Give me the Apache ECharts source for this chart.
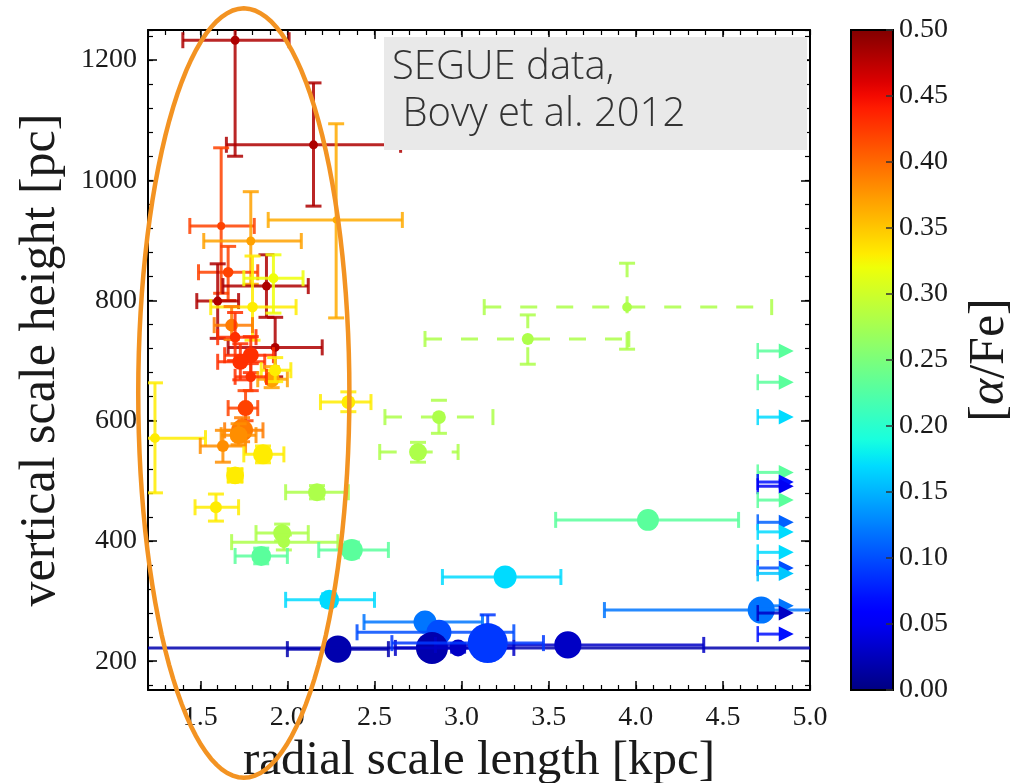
<!DOCTYPE html>
<html>
<head>
<meta charset="utf-8">
<script src="https://cdn.jsdelivr.net/npm/echarts@6/dist/echarts.min.js"></script>
<style>
  html, body { margin: 0; padding: 0; background: #fff; }
  #chart { width: 1013px; height: 783px; }
</style>
</head>
<body>
<div id="chart"></div>
<script>
// mono-abundance populations: radial scale length [kpc], vertical scale height [pc]
const rScale = [1.70, 2.15, 2.28, 1.62, 1.79, 1.66, 1.88, 1.60, 1.80, 1.92, 1.93, 1.68, 1.70, 1.79, 1.73, 1.91, 1.93, 1.79, 1.76, 1.74, 1.72, 2.35, 1.24, 1.63, 1.86, 1.70, 1.59, 2.17, 1.97, 1.98, 1.85, 2.37, 2.24, 4.07, 3.25, 4.72, 2.79, 2.87, 2.29, 2.83, 2.98, 3.61, 3.15];
const rLow   = [1.40, 1.65, 1.89, 1.44, 1.52, 1.49, 1.63, 1.48, 1.56, 1.75, 1.66, 1.58, 1.60, 1.64, 1.60, 1.83, 1.85, 1.70, 1.66, 1.64, 1.62, 2.19, 1.00, 1.50, 1.75, 1.66, 1.47, 1.99, 1.82, 1.68, 1.70, 2.18, 1.99, 3.54, 2.89, 3.82, 2.44, 2.40, 2.00, 0.50, 2.62, 2.85, 2.60];
const rHigh  = [2.01, 2.65, 2.66, 1.81, 2.08, 1.83, 2.12, 1.72, 2.05, 2.09, 2.20, 1.80, 1.82, 1.92, 1.87, 2.00, 2.02, 1.88, 1.83, 1.86, 1.82, 2.48, 1.53, 1.76, 1.98, 1.74, 1.72, 2.35, 2.12, 2.29, 2.00, 2.58, 2.50, 4.59, 3.57, 6.00, 3.12, 3.30, 2.58, 9.00, 3.30, 4.39, 3.47];
const hScale = [1233, 1059, 934, 924, 899, 847, 824, 799, 789, 837, 722, 759, 739, 709, 698, 669, 684, 673, 621, 584, 576, 631, 571, 558, 544, 509, 456, 481, 413, 398, 375, 385, 302, 435, 340, 285, 265, 248, 220, 222, 222, 227, 230];
const hLow   = [1040, 957, 771, 812, 827, 800, 772, 737, 734, 779, 673, 735, 700, 680, 668, 655, 665, 650, 600, 565, 560, 615, 480, 531, 530, 498, 433, 470, 400, 385, 362, 372, 292, 425, 330, 275, 255, 238, 212, 214, 215, 220, 202];
const hHigh  = [1300, 1162, 1094, 1054, 981, 890, 876, 861, 874, 876, 772, 790, 780, 740, 728, 690, 705, 695, 650, 605, 595, 648, 663, 584, 558, 520, 478, 492, 428, 410, 388, 398, 312, 445, 350, 295, 275, 258, 228, 230, 229, 234, 277];
const alphaFe = [0.48, 0.48, 0.365, 0.42, 0.37, 0.42, 0.48, 0.48, 0.33, 0.32, 0.48, 0.39, 0.43, 0.43, 0.43, 0.37, 0.33, 0.43, 0.42, 0.39, 0.38, 0.33, 0.33, 0.38, 0.33, 0.33, 0.33, 0.28, 0.28, 0.28, 0.23, 0.23, 0.17, 0.23, 0.17, 0.12, 0.12, 0.10, 0.02, 0.02, 0.03, 0.03, 0.09];
const sigma  = [0.05, 0.05, 0.03, 0.04, 0.05, 0.07, 0.05, 0.05, 0.07, 0.06, 0.05, 0.10, 0.07, 0.16, 0.16, 0.16, 0.09, 0.07, 0.16, 0.30, 0.20, 0.12, 0.06, 0.09, 0.25, 0.20, 0.09, 0.20, 0.20, 0.09, 0.25, 0.30, 0.25, 0.30, 0.33, 0.46, 0.33, 0.39, 0.46, 0.64, 0.18, 0.46, 1.00];

// poorly constrained fits (dashed error bars)
const rScaleU = [3.95, 3.38, 2.87, 2.75];
const rLowU   = [3.13, 2.79, 2.56, 2.53];
const rHighU  = [4.78, 3.96, 3.18, 2.98];
const hScaleU = [789, 736, 606, 548];
const hLowU   = [719, 694, 579, 531];
const hHighU  = [862, 776, 634, 564];
const alphaFeU = [0.28, 0.28, 0.28, 0.28];
const sigmaU  = [0.06, 0.09, 0.12, 0.20];

// lower limits on the radial scale length
const rLimit = [4.70, 4.70, 4.70, 4.70, 4.70, 4.70, 4.70, 4.70, 4.70, 4.70, 4.70, 4.70, 4.70, 4.70, 4.70];
const hLimit = [716, 664, 606, 514, 498, 491, 468, 431, 415, 381, 355, 346, 292, 280, 245];
const alphaFeLimit = [0.23, 0.23, 0.17, 0.23, 0.07, 0.05, 0.23, 0.11, 0.17, 0.17, 0.10, 0.16, 0.12, 0.03, 0.07];

// highlighted region (ellipse): centre and half-axes in data units
const ringCentre = [1.75, 646];
const ringHalf = [0.606, 640];

const serif = 'Liberation Serif';

// matplotlib "jet" colormap
function jet(t) {
  function seg(pts) {
    for (let i = 1; i < pts.length; i++) {
      if (t <= pts[i][0]) {
        const a = pts[i - 1], b = pts[i];
        return a[1] + (b[1] - a[1]) * (t - a[0]) / (b[0] - a[0]);
      }
    }
    return pts[pts.length - 1][1];
  }
  const r = seg([[0, 0], [0.35, 0], [0.66, 1], [0.89, 1], [1, 0.5]]);
  const g = seg([[0, 0], [0.125, 0], [0.375, 1], [0.64, 1], [0.91, 0], [1, 0]]);
  const b = seg([[0, 0.5], [0.11, 1], [0.34, 1], [0.65, 0], [1, 0]]);
  return 'rgb(' + Math.round(r * 255) + ',' + Math.round(g * 255) + ',' + Math.round(b * 255) + ')';
}
const jetColors = [];
for (let i = 0; i <= 50; i++) jetColors.push(jet(i / 50));

const solidData = rScale.map((r, i) => [r, hScale[i], alphaFe[i], rLow[i], rHigh[i], hLow[i], hHigh[i], sigma[i]]);
const dashedData = rScaleU.map((r, i) => [r, hScaleU[i], alphaFeU[i], rLowU[i], rHighU[i], hLowU[i], hHighU[i], sigmaU[i]]);
const limitData = rLimit.map((r, i) => [r, hLimit[i], alphaFeLimit[i]]);

function errorPoint(dashed) {
  return function (params, api) {
    const r = api.value(0), h = api.value(1);
    const c = api.coord([r, h]);
    const lo = api.coord([api.value(3), h]);
    const hi = api.coord([api.value(4), h]);
    const bot = api.coord([r, api.value(5)]);
    const top = api.coord([r, api.value(6)]);
    const color = api.visual('color');
    const d = 40 * Math.sqrt(api.value(7));
    const cap = 8;
    const bar = { stroke: color, lineWidth: 3, opacity: 0.85, lineDash: dashed ? [17, 19] : null };
    const capStyle = { stroke: color, lineWidth: 3, opacity: 0.85 };
    return {
      type: 'group',
      children: [
        { type: 'line', shape: { x1: lo[0], y1: lo[1], x2: hi[0], y2: hi[1] }, style: bar },
        { type: 'line', shape: { x1: bot[0], y1: bot[1], x2: top[0], y2: top[1] }, style: bar },
        { type: 'line', shape: { x1: lo[0], y1: lo[1] - cap, x2: lo[0], y2: lo[1] + cap }, style: capStyle },
        { type: 'line', shape: { x1: hi[0], y1: hi[1] - cap, x2: hi[0], y2: hi[1] + cap }, style: capStyle },
        { type: 'line', shape: { x1: top[0] - cap, y1: top[1], x2: top[0] + cap, y2: top[1] }, style: capStyle },
        { type: 'line', shape: { x1: bot[0] - cap, y1: bot[1], x2: bot[0] + cap, y2: bot[1] }, style: capStyle },
        { type: 'circle', shape: { cx: c[0], cy: c[1], r: d / 2 }, style: { fill: color } }
      ]
    };
  };
}

function limitArrow(params, api) {
  const p = api.coord([api.value(0), api.value(1)]);
  const color = api.visual('color');
  return {
    type: 'group',
    children: [
      { type: 'line', shape: { x1: p[0], y1: p[1] - 8, x2: p[0], y2: p[1] + 8 }, style: { stroke: color, lineWidth: 2.5, opacity: 0.85 } },
      { type: 'line', shape: { x1: p[0], y1: p[1], x2: p[0] + 22, y2: p[1] }, style: { stroke: color, lineWidth: 3, opacity: 0.85 } },
      { type: 'polygon', shape: { points: [[p[0] + 21, p[1] - 7.5], [p[0] + 36, p[1]], [p[0] + 21, p[1] + 7.5]] }, style: { fill: color } }
    ]
  };
}

function ring(params, api) {
  const pts = [];
  for (let k = 0; k <= 120; k++) {
    const a = k / 120 * Math.PI * 2;
    pts.push(api.coord([api.value(0) + api.value(2) * Math.cos(a), api.value(1) + api.value(3) * Math.sin(a)]));
  }
  return { type: 'polyline', shape: { points: pts }, style: { stroke: '#f39322', lineWidth: 4.5, fill: null } };
}

function colorBar(params, api) {
  const p0 = api.coord([0, 0]);
  const p1 = api.coord([1, 0.5]);
  return {
    type: 'rect',
    shape: { x: p0[0], y: p1[1], width: p1[0] - p0[0], height: p0[1] - p1[1] },
    style: {
      fill: {
        type: 'linear', x: 0, y: 1, x2: 0, y2: 0,
        colorStops: jetColors.map((c, i) => ({ offset: i / 50, color: c }))
      },
      stroke: '#000', lineWidth: 2
    }
  };
}

const frameLine = { onZero: false, lineStyle: { color: '#000', width: 2 } };
const majorTick = { inside: true, length: 9, lineStyle: { color: '#000', width: 1.5 } };
const minorTick = { inside: true, length: 5, lineStyle: { color: '#000', width: 1.2 } };
const tickText = { fontFamily: serif, fontSize: 28, color: '#1a1a1a' };

const chart = echarts.init(document.getElementById('chart'), null, { renderer: 'canvas' });
chart.setOption({
  backgroundColor: '#fff',
  animation: false,
  grid: [
    { left: 148, top: 30, width: 662, height: 660, outerBoundsMode: 'none', containLabel: false },
    { left: 851, top: 30, width: 42, height: 660, outerBoundsMode: 'none', containLabel: false },
    { left: 148, top: 30, width: 662, height: 655.2, outerBoundsMode: 'none', containLabel: false }
  ],
  xAxis: [
    {
      gridIndex: 0, type: 'value', min: 1.2, max: 5.0, splitNumber: 7, position: 'bottom',
      axisLine: frameLine, axisTick: majorTick, splitLine: { show: false },
      axisLabel: Object.assign({ margin: 14, showMinLabel: false, formatter: v => v.toFixed(1) }, tickText),
      name: 'radial scale length [kpc]', nameLocation: 'middle', nameGap: 38,
      nameTextStyle: { fontFamily: serif, fontSize: 49, color: '#1a1a1a' }
    },
    {
      gridIndex: 0, type: 'value', min: 1.2, max: 5.0, splitNumber: 7, position: 'top',
      axisLine: frameLine, axisTick: majorTick, axisLabel: { show: false }, splitLine: { show: false }
    },
    {
      gridIndex: 0, type: 'value', min: 1.2, max: 5.0, interval: 0.1, position: 'bottom',
      axisLine: { show: false, onZero: false }, axisTick: minorTick, axisLabel: { show: false }, splitLine: { show: false }
    },
    {
      gridIndex: 0, type: 'value', min: 1.2, max: 5.0, interval: 0.1, position: 'top',
      axisLine: { show: false, onZero: false }, axisTick: minorTick, axisLabel: { show: false }, splitLine: { show: false }
    },
    { gridIndex: 1, type: 'value', min: 0, max: 1, show: false },
    { gridIndex: 2, type: 'value', min: 1.2, max: 5.0, show: false }
  ],
  yAxis: [
    {
      gridIndex: 0, type: 'value', min: 152, max: 1250, splitNumber: 5, position: 'left',
      axisLine: frameLine, axisTick: majorTick, splitLine: { show: false },
      axisLabel: Object.assign({ margin: 11, showMinLabel: false, showMaxLabel: false, formatter: v => String(v) }, tickText),
      name: 'vertical scale height [pc]', nameLocation: 'middle', nameGap: 82,
      nameTextStyle: { fontFamily: serif, fontSize: 50, color: '#1a1a1a' }
    },
    {
      gridIndex: 0, type: 'value', min: 152, max: 1250, splitNumber: 5, position: 'right',
      axisLine: frameLine, axisTick: majorTick, axisLabel: { show: false }, splitLine: { show: false }
    },
    {
      gridIndex: 2, type: 'value', min: 160, max: 1250, interval: 40, position: 'left',
      axisLine: { show: false, onZero: false }, axisTick: minorTick, axisLabel: { show: false }, splitLine: { show: false }
    },
    {
      gridIndex: 2, type: 'value', min: 160, max: 1250, interval: 40, position: 'right',
      axisLine: { show: false, onZero: false }, axisTick: minorTick, axisLabel: { show: false }, splitLine: { show: false }
    },
    {
      gridIndex: 1, type: 'value', min: 0, max: 0.5, interval: 0.05, position: 'right', z: 10,
      axisLine: { show: false, onZero: false },
      axisTick: { inside: true, length: 7, lineStyle: { color: '#333', width: 1.5 } },
      splitLine: { show: false },
      axisLabel: Object.assign({ margin: 6, formatter: v => v.toFixed(2) }, tickText),
      name: '[{i|α}/Fe]', nameLocation: 'middle', nameGap: 72,
      nameTextStyle: {
        fontFamily: serif, fontSize: 50, color: '#1a1a1a',
        rich: { i: { fontFamily: serif, fontSize: 50, fontStyle: 'italic', color: '#1a1a1a' } }
      }
    }
  ],
  visualMap: {
    type: 'continuous', show: false, min: 0, max: 0.5, dimension: 2,
    seriesIndex: [0, 1, 2], inRange: { color: jetColors }
  },
  series: [
    { type: 'custom', name: 'fits', xAxisIndex: 0, yAxisIndex: 0, clip: true, data: solidData, renderItem: errorPoint(false) },
    { type: 'custom', name: 'uncertain fits', xAxisIndex: 0, yAxisIndex: 0, clip: true, data: dashedData, renderItem: errorPoint(true) },
    { type: 'custom', name: 'lower limits', xAxisIndex: 0, yAxisIndex: 0, clip: true, data: limitData, renderItem: limitArrow },
    { type: 'custom', name: 'region', xAxisIndex: 0, yAxisIndex: 0, z: 20, silent: true,
      data: [[ringCentre[0], ringCentre[1], ringHalf[0], ringHalf[1]]], renderItem: ring },
    { type: 'custom', name: 'colorbar', xAxisIndex: 4, yAxisIndex: 4, z: 1, silent: true,
      data: [[0, 0]], renderItem: colorBar }
  ],
  graphic: [
    { type: 'rect', left: 384, top: 37, z: 100, shape: { width: 423, height: 113 }, style: { fill: '#e9e9e9' } },
    {
      type: 'text', left: 392, top: 44, z: 101,
      style: { text: 'SEGUE data,\n Bovy et al. 2012', font: '300 40px "Open Sans"', fill: '#333', lineHeight: 47 }
    }
  ]
});
</script>
</body>
</html>
